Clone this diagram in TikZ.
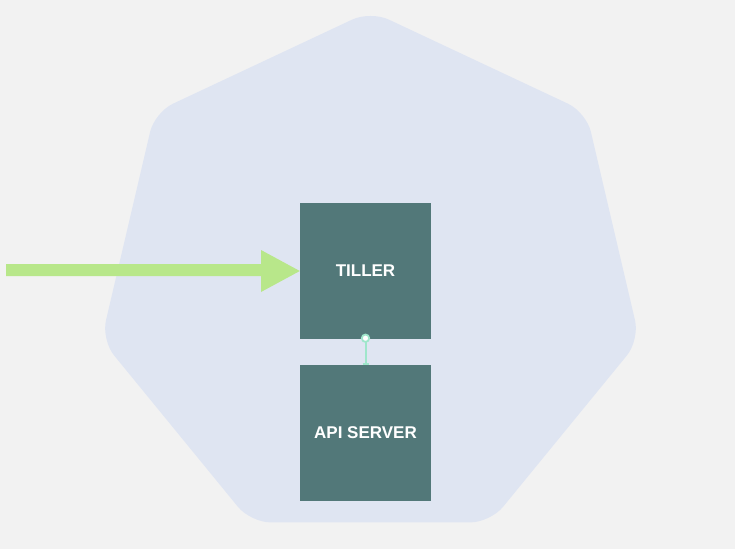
\documentclass[tikz,border=0pt]{standalone}
\usepackage{fontspec}
\newfontfamily\labfont{Liberation Sans}
\definecolor{bgc}{HTML}{F2F2F2}
\definecolor{hepc}{HTML}{DFE5F2}
\definecolor{boxc}{HTML}{527879}
\definecolor{arrc}{HTML}{B8E78A}
\definecolor{linkc}{HTML}{9FE6CB}
\tikzset{
  compbox/.style={fill=boxc, draw=none, minimum width=131pt, minimum height=136pt, inner sep=0pt,
    text=white, font=\labfont\bfseries\fontsize{17pt}{19pt}\selectfont},
  linkline/.style={draw=linkc, line width=2pt},
}
\begin{document}
\begin{tikzpicture}[x=1pt,y=-1pt]
\fill[bgc] (0,0) rectangle (735,549);
\useasboundingbox (0,0) rectangle (735,549);
% heptagon
\fill[hepc, rounded corners=20pt] (370.5,11) -- (586.3,112.3) -- (639.6,339.9) -- (490.3,522.4) -- (250.7,522.4) -- (101.4,339.9) -- (154.7,112.3) -- cycle;
% boxes
\node[compbox] (tiller) at (365.5,271) {TILLER};
\node[compbox] (api) at (365.5,433) {API SERVER};
% arrow
\coordinate (src) at (6,270);
\fill[arrc] (src) ++(0,-6) -- (261,264) -- (261,250) -- (tiller.west) -- (261,292) -- (261,276) -- (6,276) -- cycle;
% connector
\draw[linkline] (tiller.south) -- (api.north);
\draw[linkc, line width=2pt] ([xshift=-3pt,yshift=1pt]api.north) -- ([xshift=3pt,yshift=1pt]api.north);
\draw[linkc, line width=1.8pt, fill=white] ([yshift=1pt]tiller.south) circle (3.7pt);
\end{tikzpicture}
\end{document}
